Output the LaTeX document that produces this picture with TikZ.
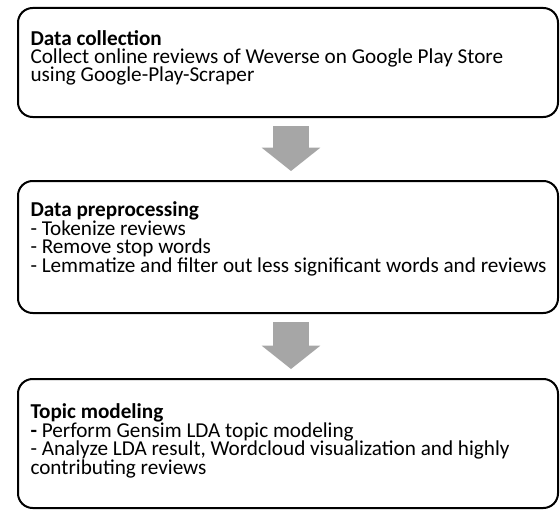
\documentclass[tikz,border=0pt]{standalone}
\usepackage{fontspec}
\setmainfont{Carlito}
\usetikzlibrary{arrows.meta}

\tikzset{every picture/.style={line width=0.75pt}}
\tikzset{
  stagebox/.style={draw, rounded corners=11pt, line width=1.5pt, minimum width=405pt, inner sep=0pt},
  stagetext/.style={anchor=base west, inner sep=0pt, align=left, font=\fontsize{15.9}{13.8}\selectfont},
  flowarrow/.style={draw={rgb, 255:red, 166; green, 166; blue, 166}, line width=27pt,
    -{Triangle[length=17.5pt, width=44pt, line width=0pt]}, shorten <=6pt, shorten >=6.75pt}
}

\begin{document}
\begin{tikzpicture}[x=0.75pt,y=0.75pt,yscale=-1]
\useasboundingbox (0,0) rectangle (560,510);

%Shape: Rounded Rectangle [id:collect]
\node [stagebox, minimum height=81.75pt] (collect) at (288,62.5) {};
%Shape: Rounded Rectangle [id:prep]
\node [stagebox, minimum height=99pt] (prep) at (288,247) {};
%Shape: Rounded Rectangle [id:topic]
\node [stagebox, minimum height=96.75pt] (topic) at (288,443.5) {};

%Block Arrows
\draw [flowarrow] ([xshift=2.25pt]collect.south) -- ([xshift=2.25pt]prep.north) ;
\draw [flowarrow] ([xshift=2.25pt]prep.south) -- ([xshift=2.25pt]topic.north) ;

% Text Node (anchored at baseline of last line)
\node [stagetext] (collecttext) at (30,82) {\textbf{Data collection}\\Collect online reviews of Weverse on Google Play Store\\using Google-Play-Scraper};
% Text Node
\node [stagetext] (preptext) at (30,272) {\textbf{Data preprocessing}\\- Tokenize reviews\\- Remove stop words\\- Lemmatize and filter out less significant words and reviews};
% Text Node
\node [stagetext] (topictext) at (30,474) {\textbf{Topic modeling}\\\textbf{-} Perform Gensim LDA topic modeling\\- Analyze LDA result, Wordcloud visualization and highly\\contributing reviews};

\end{tikzpicture}
\end{document}
